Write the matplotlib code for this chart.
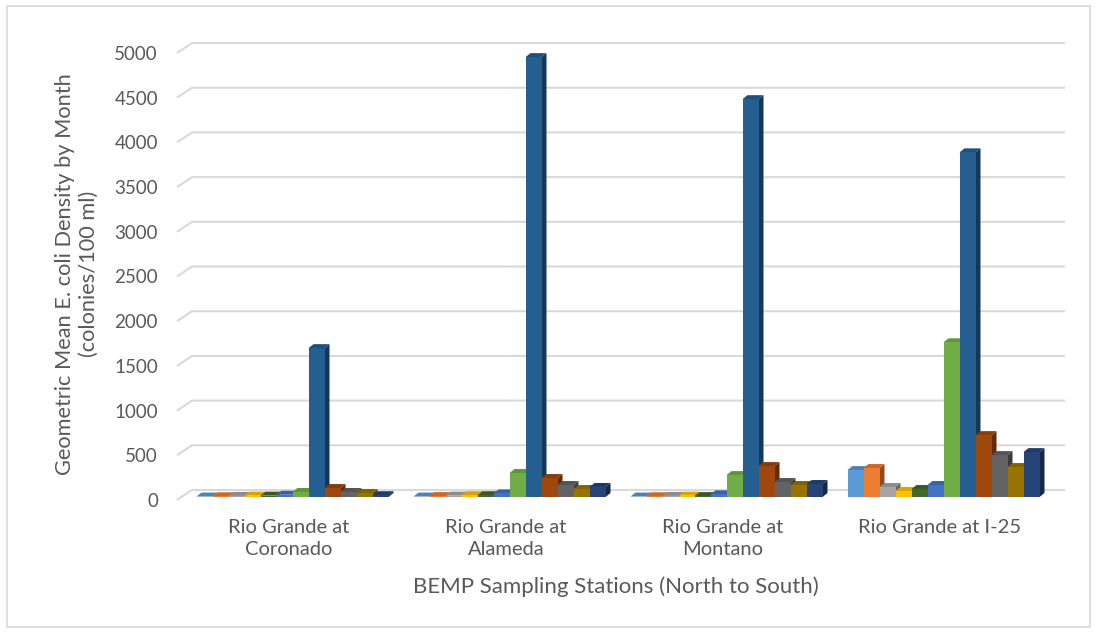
import matplotlib.pyplot as plt
import matplotlib.transforms as mtransforms
from matplotlib.patches import Polygon, Rectangle
from matplotlib.colors import to_rgb

stations = ["Rio Grande at\nCoronado", "Rio Grande at\nAlameda",
            "Rio Grande at\nMontano", "Rio Grande at I-25"]

# geometric mean E. coli per month, one list per station (bars left to right)
coronado = [5, 8, 12, 15, 15, 25, 56, 1665, 100, 56, 45, 20]
alameda = [5, 10, 15, 20, 20, 40, 268, 4920, 212, 134, 89, 112]
montano = [5, 8, 12, 15, 10, 30, 245, 4450, 346, 167, 134, 145]
i25 = [301, 324, 112, 67, 89, 134, 1730, 3855, 692, 469, 335, 502]

colors = ["#5B9BD5", "#ED7D31", "#A5A5A5", "#FFC000", "#43682B", "#4472C4",
          "#70AD47", "#255E91", "#9E480E", "#636363", "#997300", "#264478"]

yticks = list(range(0, 5001, 500))

plt.rcParams["font.family"] = ["Lato", "DejaVu Sans"]
txt = "#595959"
grid = "#d9d9d9"

W, H = 1097, 633
fig = plt.figure(figsize=(W / 100, H / 100), dpi=100)
fig.patches.append(Rectangle((7 / W, 6 / H), 1083 / W, 621 / H, transform=fig.transFigure,
                             fill=False, edgecolor=grid, lw=1.2))

left_px, right_px, base_px, top_px = 186.5, 1054.5, 497, 50
ax = fig.add_axes([left_px / W, 1 - base_px / H, (right_px - left_px) / W, (base_px - top_px) / H])
ax.set_xlim(-0.5, 3.5)
ax.set_ylim(0, 5000)
for s in ax.spines.values():
    s.set_visible(False)

# pixel -> data conversion
px_x = 4.0 / (right_px - left_px)
px_y = 5000.0 / (base_px - top_px)


def px_off(dx, dy):
    return mtransforms.ScaledTranslation(dx / 100, dy / 100, fig.dpi_scale_trans)


# back wall gridlines with the little side wall edge
gx0 = -0.5 + (192 - left_px) * px_x
gx1 = -0.5 + (1065 - left_px) * px_x
fx = -0.5 + (177 - left_px) * px_x
for v in yticks:
    ax.plot([fx, gx0, gx1], [v - 3 * px_y, v + 7 * px_y, v + 7 * px_y], color=grid, lw=1.5,
            clip_on=False, zorder=0, solid_capstyle="butt")

# 3-D looking columns
n = len(colors)
w = 16 * px_x
ddx, ddy = 5 * px_x, 4 * px_y
z = 2
for gi, vals in enumerate([coronado, alameda, montano, i25]):
    x0 = gi - (n * w + ddx) / 2
    for i, (v, c) in enumerate(zip(vals, colors)):
        x = x0 + i * w
        r, g, b = to_rgb(c)
        side = (r * 0.6, g * 0.6, b * 0.6)
        topc = (r * 0.85, g * 0.85, b * 0.85)
        ax.add_patch(Polygon([(x + w, 0), (x + w + ddx, ddy), (x + w + ddx, v + ddy), (x + w, v)],
                             closed=True, facecolor=side, edgecolor="none", zorder=z))
        ax.add_patch(Polygon([(x, v), (x + ddx, v + ddy), (x + w + ddx, v + ddy), (x + w, v)],
                             closed=True, facecolor=topc, edgecolor="none", zorder=z))
        ax.bar(x, v, width=w, align="edge", color=c, edgecolor="none", zorder=z + 0.5)
        z += 1

ax.set_yticks(yticks)
ax.set_yticklabels([str(v) for v in yticks], fontsize=13.5, color=txt)
ax.tick_params(axis="y", length=0, pad=(left_px - 158) * 0.72)
for lab in ax.get_yticklabels():
    lab.set_transform(lab.get_transform() + px_off(0, -3))

ax.set_xticks(range(len(stations)))
ax.set_xticklabels(stations, fontsize=14.5, color=txt, linespacing=1.35)
ax.tick_params(axis="x", length=0, pad=16)
for lab in ax.get_xticklabels():
    lab.set_transform(lab.get_transform() + px_off(-6, 0))

fig.text(616 / W, 1 - 587 / H, "BEMP Sampling Stations (North to South)", fontsize=16,
         color=txt, ha="center", va="center")
fig.text(77 / W, 1 - 274 / H, "Geometric Mean E. coli Density by Month\n(colonies/100 ml)",
         fontsize=15.7, color=txt, ha="center", va="center", rotation=90, linespacing=1.2,
         multialignment="center")

fig.savefig("out.png", dpi=100)
